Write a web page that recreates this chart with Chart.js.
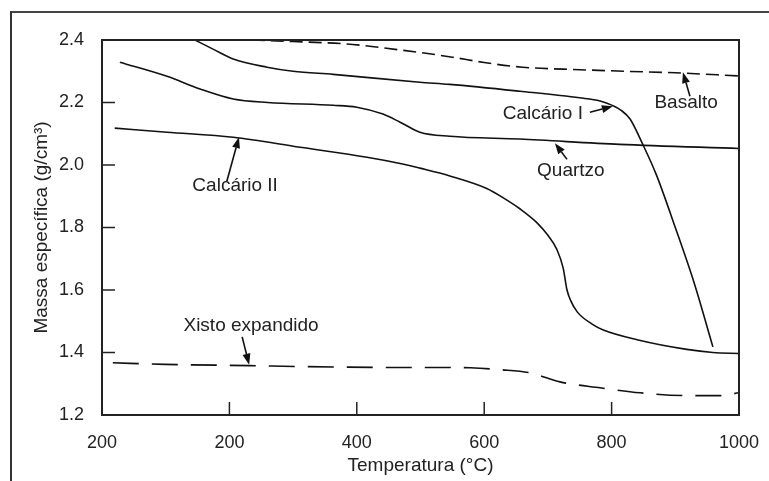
<!DOCTYPE html>
<html>
<head>
<meta charset="utf-8">
<script src="https://cdn.jsdelivr.net/npm/chart.js@4.4.1/dist/chart.umd.min.js"></script>
<style>
  html, body { margin: 0; padding: 0; background: #fff; }
  #wrap { position: relative; width: 769px; height: 481px; overflow: hidden; }
  #frame { position: absolute; left: 10px; top: 11px; right: -4px; bottom: -4px;
           border-top: 2px solid #444; border-left: 2px solid #333; pointer-events: none; }
</style>
</head>
<body>
<div id="wrap">
  <canvas id="grafico" width="769" height="481"></canvas>
  <div id="frame"></div>
</div>
<script>
// -- Dados --
const xTicks = [0, 200, 400, 600, 800, 1000];
const xTickLabels = ['200', '200', '400', '600', '800', '1000'];
const yTicks = [1.2, 1.4, 1.6, 1.8, 2.0, 2.2, 2.4];

const basaltoTemp = [235, 300, 380, 420, 460, 500, 550, 600, 660, 750, 820, 900, 1000];
const basaltoDens = [2.40, 2.395, 2.388, 2.38, 2.37, 2.36, 2.345, 2.328, 2.313, 2.305, 2.30, 2.295, 2.285];

const calcarioITemp = [146, 175, 206, 259, 300, 363, 499, 546, 656, 750, 782, 802, 815, 829, 848, 870, 900, 930, 959];
const calcarioIDens = [2.40, 2.37, 2.339, 2.313, 2.30, 2.29, 2.265, 2.258, 2.236, 2.215, 2.205, 2.19, 2.175, 2.147, 2.07, 1.97, 1.80, 1.62, 1.418];

const quartzoTemp = [28, 102, 154, 206, 260, 363, 400, 441, 468, 499, 546, 656, 813, 1000];
const quartzoDens = [2.329, 2.284, 2.243, 2.211, 2.20, 2.191, 2.185, 2.163, 2.137, 2.105, 2.092, 2.083, 2.066, 2.053];

const calcarioIITemp = [20, 102, 206, 311, 416, 468, 499, 546, 604, 630, 656, 683, 700, 714, 724, 730, 736, 746, 770, 787, 840, 918, 959, 1000];
const calcarioIIDens = [2.118, 2.105, 2.089, 2.057, 2.025, 2.005, 1.99, 1.965, 1.925, 1.895, 1.86, 1.815, 1.775, 1.73, 1.67, 1.60, 1.565, 1.53, 1.49, 1.472, 1.441, 1.41, 1.40, 1.397];

const xistoTemp = [17, 99, 232, 311, 468, 546, 578, 625, 672, 719, 782, 845, 923, 970, 1000];
const xistoDens = [1.367, 1.362, 1.358, 1.355, 1.352, 1.352, 1.351, 1.345, 1.335, 1.306, 1.287, 1.271, 1.262, 1.262, 1.271];

// rótulos com seta: texto em (x, y), seta de (x0, y0) até (x1, y1)
const labels = [
  { text: 'Calcário II', x: 209, y: 1.935, x0: 196, y0: 1.948, x1: 215, y1: 2.089 },
  { text: 'Calcário I', x: 692, y: 2.163, x0: 766, y0: 2.169, x1: 802, y1: 2.188 },
  { text: 'Basalto', x: 917, y: 2.198, x0: 923, y0: 2.220, x1: 912, y1: 2.297 },
  { text: 'Quartzo', x: 736, y: 1.980, x0: 730, y0: 2.018, x1: 711, y1: 2.070 },
  { text: 'Xisto expandido', x: 234, y: 1.486, x0: 220, y0: 1.450, x1: 231, y1: 1.361 }
];

const FONT = '"Liberation Sans", Arial, sans-serif';
const INK = '#222';

const toPoints = (xs, ys) => xs.map((x, i) => ({ x, y: ys[i] }));

const serie = (label, xs, ys, dash = []) => ({
  label,
  data: toPoints(xs, ys),
  borderColor: '#111',
  borderWidth: 1.6,
  borderDash: dash,
  pointRadius: 0,
  fill: false,
  cubicInterpolationMode: 'monotone'
});

// marcas internas nos eixos + moldura da área do gráfico
const innerTicks = {
  id: 'innerTicks',
  afterDatasetsDraw(chart) {
    const { ctx, chartArea: a, scales: { x, y } } = chart;
    ctx.save();
    ctx.strokeStyle = INK;
    ctx.lineWidth = 1.5;
    xTicks.slice(1, -1).forEach(v => {
      const px = x.getPixelForValue(v);
      ctx.beginPath(); ctx.moveTo(px, a.bottom); ctx.lineTo(px, a.bottom - 13); ctx.stroke();
    });
    yTicks.slice(1, -1).forEach(v => {
      const py = y.getPixelForValue(v);
      ctx.beginPath(); ctx.moveTo(a.left, py); ctx.lineTo(a.left + 13, py); ctx.stroke();
    });
    ctx.lineWidth = 2;
    ctx.strokeRect(a.left, a.top, a.width, a.height);
    ctx.restore();
  }
};

const arrowLabels = {
  id: 'arrowLabels',
  afterDatasetsDraw(chart) {
    const { ctx, scales: { x, y } } = chart;
    ctx.save();
    ctx.font = '19px ' + FONT;
    ctx.fillStyle = INK;
    ctx.strokeStyle = '#111';
    ctx.lineWidth = 1.6;
    ctx.textAlign = 'center';
    ctx.textBaseline = 'middle';
    labels.forEach(l => {
      ctx.fillText(l.text, x.getPixelForValue(l.x), y.getPixelForValue(l.y));
      const x0 = x.getPixelForValue(l.x0), y0 = y.getPixelForValue(l.y0);
      const x1 = x.getPixelForValue(l.x1), y1 = y.getPixelForValue(l.y1);
      const ang = Math.atan2(y1 - y0, x1 - x0);
      const head = 11, half = 4;
      const bx = x1 - head * Math.cos(ang), by = y1 - head * Math.sin(ang);
      ctx.beginPath(); ctx.moveTo(x0, y0); ctx.lineTo(bx, by); ctx.stroke();
      ctx.beginPath();
      ctx.moveTo(x1, y1);
      ctx.lineTo(bx + half * Math.sin(ang), by - half * Math.cos(ang));
      ctx.lineTo(bx - half * Math.sin(ang), by + half * Math.cos(ang));
      ctx.closePath();
      ctx.fillStyle = '#111';
      ctx.fill();
      ctx.fillStyle = INK;
    });
    ctx.restore();
  }
};

Chart.defaults.font.family = FONT;
Chart.defaults.color = INK;

new Chart(document.getElementById('grafico'), {
  type: 'line',
  data: {
    datasets: [
      serie('Basalto', basaltoTemp, basaltoDens, [13, 6]),
      serie('Calcário I', calcarioITemp, calcarioIDens),
      serie('Quartzo', quartzoTemp, quartzoDens),
      serie('Calcário II', calcarioIITemp, calcarioIIDens),
      serie('Xisto expandido', xistoTemp, xistoDens, [26, 13])
    ]
  },
  options: {
    responsive: false,
    animation: false,
    layout: { padding: { top: 40, right: 30, left: 0, bottom: 0 } },
    plugins: { legend: { display: false }, tooltip: { enabled: false } },
    scales: {
      x: {
        type: 'linear',
        min: 0,
        max: 1000,
        afterFit: s => { s.height = 66; },
        afterBuildTicks: s => { s.ticks = xTicks.map(value => ({ value })); },
        grid: { display: false },
        border: { display: false },
        ticks: {
          autoSkip: false,
          maxRotation: 0,
          padding: 9,
          font: { size: 18 },
          callback: v => xTickLabels[xTicks.indexOf(v)]
        },
        title: { display: true, text: 'Temperatura (°C)', font: { size: 19 }, padding: { bottom: 4 } }
      },
      y: {
        min: 1.2,
        max: 2.4,
        afterFit: s => { s.width = 102; },
        afterBuildTicks: s => { s.ticks = yTicks.map(value => ({ value })); },
        grid: { display: false },
        border: { display: false },
        ticks: {
          padding: 10,
          font: { size: 18 },
          callback: v => Number(v).toFixed(1)
        },
        title: { display: true, text: 'Massa específica (g/cm³)', font: { size: 19 }, padding: { top: 30 } }
      }
    }
  },
  plugins: [innerTicks, arrowLabels]
});
</script>
</body>
</html>
